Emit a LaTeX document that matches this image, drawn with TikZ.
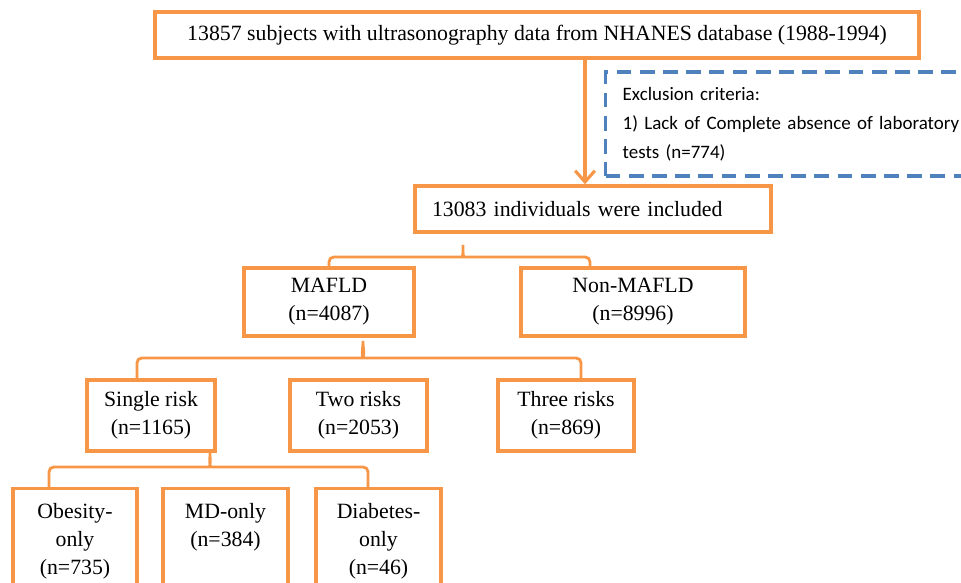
\documentclass[tikz,border=0pt]{standalone}
\usepackage{fontspec}
\setmainfont{Liberation Serif}
\newfontfamily\calibrifont{Carlito}
\usetikzlibrary{arrows.meta}
\definecolor{floworange}{RGB}{247, 150, 70}
\definecolor{exclblue}{RGB}{79, 129, 189}

\tikzset{
  flowbox/.style={draw=floworange, line width=2.4pt, align=center, inner sep=0pt,
    font=\fontsize{15.5}{20}\selectfont},
  exclbox/.style={draw=exclblue, line width=2.4pt, dash pattern=on 10.5pt off 6pt,
    align=left, font=\calibrifont\fontsize{13.5}{20.5}\selectfont},
  bracket/.style={draw=floworange, line width=2pt, rounded corners=0.12cm},
  flowarrow/.style={draw=floworange, line width=2.2pt, -{Straight Barb[length=8pt,width=14pt]}},
  boxtext/.style={align=center, inner sep=0pt, font=\fontsize{15.5}{20}\selectfont}
}

\begin{document}
\begin{tikzpicture}
    \useasboundingbox (0,0) rectangle (24.025,-14.55);
    \clip (0,0) rectangle (24.025,-14.55);

    % Source population
    \node[flowbox, minimum width=19.1cm, minimum height=1.15cm] (source) at (13.425,-0.875)
        {13857 subjects with ultrasonography data from NHANES database (1988-1994)};

    % Exclusion criteria (runs past the right edge)
    \node[exclbox, anchor=west, minimum height=2.6cm, text width=8.9cm, inner xsep=0.425cm] (excl) at (15.1,-3.1)
        {Exclusion criteria:\\1) Lack of Complete absence of laboratory\\tests (n=774)};

    % Included sample
    \node[flowbox, minimum height=1.15cm, text width=8.05cm, inner xsep=0.425cm, align=left] (incl) at (14.825,-5.225)
        {13083 individuals were included};

    \coordinate (arrowx) at (14.625,0);
    \draw[flowarrow] (source.south -| arrowx) -- (incl.north -| arrowx);

    % MAFLD split
    \node[flowbox, minimum width=4.25cm, minimum height=1.7cm] (mafld) at (8.225,-7.55) {MAFLD\\(n=4087)};
    \node[flowbox, minimum width=5.6cm, minimum height=1.7cm] (nonmafld) at (15.825,-7.55) {Non-MAFLD\\(n=8996)};

    \draw[bracket] (mafld.north) |- (11.425,-6.425) to[out=0,in=-90] (11.575,-6.05)
        to[out=-90,in=180] (11.725,-6.425) -| ([xshift=-1.075cm]nonmafld.north);

    % Number of risks
    \node[flowbox, minimum width=3.2cm, minimum height=1.775cm] (single) at (3.775,-10.3875) {Single risk\\(n=1165)};
    \node[flowbox, minimum width=3.425cm, minimum height=1.775cm] (two) at (8.9625,-10.3875) {Two risks\\(n=2053)};
    \node[flowbox, minimum width=3.4cm, minimum height=1.775cm] (three) at (14.15,-10.3875) {Three risks\\(n=869)};

    \draw[bracket] ([xshift=-0.35cm]single.north) |- (8.925,-8.95) to[out=0,in=-90] (9.075,-8.45)
        to[out=-90,in=180] (9.225,-8.95) -| ([xshift=0.375cm]three.north);

    % Single risk subgroups (cut by the bottom edge)
    \node[flowbox, anchor=north, minimum width=3.1cm, minimum height=3cm,
        label={[boxtext, anchor=north, yshift=-0.4cm]north:{Obesity-\\only\\(n=735)}}] (obesity) at (1.875,-12.175) {};
    \node[flowbox, anchor=north, minimum width=3.125cm, minimum height=3cm,
        label={[boxtext, anchor=north, yshift=-0.4cm]north:{MD-only\\(n=384)}}] (mdonly) at (5.6375,-12.175) {};
    \node[flowbox, anchor=north, minimum width=3.125cm, minimum height=3cm,
        label={[boxtext, anchor=north, yshift=-0.4cm]north:{Diabetes-\\only\\(n=46)}}] (diabetes) at (9.4625,-12.175) {};

    \draw[bracket] ([xshift=-0.65cm]obesity.north) |- (5.1,-11.675) to[out=0,in=-90] (5.25,-11.25)
        to[out=-90,in=180] (5.4,-11.675) -| ([xshift=-0.2625cm]diabetes.north);
\end{tikzpicture}
\end{document}
